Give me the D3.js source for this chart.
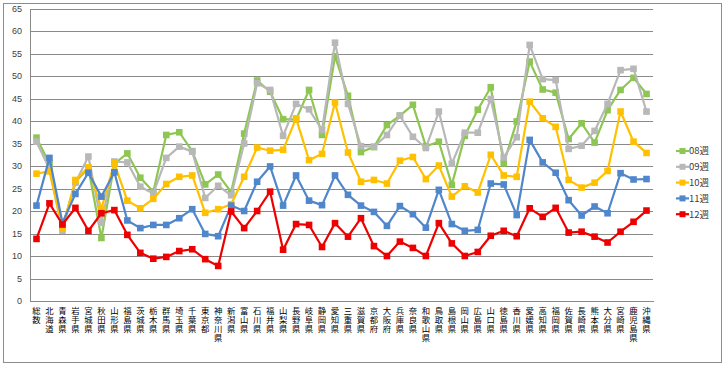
<!DOCTYPE html>
<html>
<head>
<meta charset="utf-8">
<script src="https://cdn.jsdelivr.net/npm/d3@7"></script>
<style>
  body { margin: 0; background: #fff; }
  svg { display: block; }
</style>
</head>
<body>
<div id="chart"></div>
<script>
// Categories (x axis)
const categories = ["総数", "北海道", "青森県", "岩手県", "宮城県", "秋田県", "山形県", "福島県",
    "茨城県", "栃木県", "群馬県", "埼玉県", "千葉県", "東京都", "神奈川県", "新潟県",
    "富山県", "石川県", "福井県", "山梨県", "長野県", "岐阜県", "静岡県", "愛知県",
    "三重県", "滋賀県", "京都府", "大阪府", "兵庫県", "奈良県", "和歌山県", "鳥取県",
    "島根県", "岡山県", "広島県", "山口県", "徳島県", "香川県", "愛媛県", "高知県",
    "福岡県", "佐賀県", "長崎県", "熊本県", "大分県", "宮崎県", "鹿児島県", "沖縄県"];

// Series values
const week08 = [36.3, 30.5, 16.5, 26.5, 29.5, 14.0, 30.5, 32.8, 27.4, 24.3, 36.9, 37.5,
    33.3, 25.9, 28.1, 24.2, 37.2, 49.0, 46.5, 40.4, 40.3, 46.9, 36.9, 54.4,
    45.6, 33.1, 34.2, 39.1, 41.2, 43.6, 34.4, 35.4, 25.8, 36.7, 42.5, 47.5,
    30.6, 39.9, 53.2, 47.0, 46.3, 36.0, 39.5, 35.2, 42.4, 46.9, 49.6, 46.0];
const week09 = [35.4, 29.3, 15.6, 26.3, 32.1, 17.4, 31.0, 30.8, 25.4, 23.9, 31.8, 34.3,
    33.2, 22.9, 25.6, 23.5, 35.0, 48.4, 46.9, 36.7, 43.8, 42.6, 38.0, 57.4,
    43.8, 34.4, 34.3, 36.9, 41.2, 36.5, 34.0, 42.1, 30.5, 37.4, 37.4, 44.9,
    31.9, 36.4, 56.9, 49.3, 49.1, 33.8, 34.5, 37.8, 43.8, 51.3, 51.6, 42.1];
const week10 = [28.3, 28.8, 16.1, 26.9, 29.7, 20.5, 30.6, 22.3, 20.6, 22.7, 26.0, 27.6,
    27.9, 19.6, 20.4, 21.5, 27.6, 34.1, 33.4, 33.6, 40.6, 31.3, 32.7, 44.1,
    33.0, 26.5, 26.9, 26.1, 31.2, 32.0, 27.1, 30.1, 23.2, 25.5, 24.1, 32.5,
    27.9, 27.6, 44.3, 40.6, 38.7, 26.9, 25.2, 26.3, 28.9, 42.1, 35.4, 32.9];
const week11 = [21.2, 31.8, 17.4, 23.8, 28.5, 23.2, 28.6, 17.9, 16.2, 16.9, 16.9, 18.4,
    20.4, 14.9, 14.4, 21.2, 20.0, 26.5, 29.9, 21.2, 27.9, 22.3, 21.3, 27.9,
    23.6, 21.2, 19.8, 16.7, 21.1, 19.3, 16.3, 24.7, 17.1, 15.6, 15.8, 26.1,
    25.9, 19.1, 35.8, 30.8, 28.5, 22.4, 19.0, 21.0, 19.5, 28.4, 27.0, 27.1];
const week12 = [13.8, 21.7, 17.0, 20.7, 15.6, 19.5, 20.2, 14.7, 10.7, 9.4, 9.8, 11.1,
    11.5, 9.3, 7.8, 19.9, 16.2, 20.0, 24.3, 11.4, 17.1, 16.9, 12.0, 17.3,
    14.3, 18.4, 12.2, 10.0, 13.2, 11.8, 10.0, 17.3, 12.8, 10.0, 10.9, 14.5,
    15.6, 14.4, 20.6, 18.7, 20.7, 15.2, 15.4, 14.3, 13.0, 15.4, 17.6, 20.1];

const seriesNames = ["08週", "09週", "10週", "11週", "12週"];
const seriesValues = [week08, week09, week10, week11, week12];
const seriesColors = ["#8dc652", "#b8b8b8", "#ffc000", "#4f86cc", "#ee0000"];
const yTicks = d3.range(0, 66, 5);

function createChart(width, height) {
    // Plot area bounds.
    const plotLeft = 30;
    const plotRight = 653;
    const plotTop = 8.5;
    const plotBottom = 301;

    const x = d3.scaleBand()
        .domain(categories)
        .range([plotLeft, plotRight]);

    const y = d3.scaleLinear()
        .domain([0, 65])
        .range([plotBottom, plotTop]);

    const svg = d3.create("svg")
        .attr("width", width)
        .attr("height", height)
        .attr("viewBox", [0, 0, width, height]);

    // Outer chart border.
    svg.append("rect")
        .attr("x", 3.5)
        .attr("y", 3.5)
        .attr("width", 718)
        .attr("height", 359)
        .attr("fill", "#fff")
        .attr("stroke", "#8c8c8c");

    // Y axis with grid lines.
    svg.append("g")
        .attr("transform", `translate(${plotLeft},0)`)
        .call(d3.axisLeft(y).tickValues(yTicks).tickSize(-(plotRight - plotLeft)).tickPadding(8))
        .call(g => g.select(".domain").remove())
        .call(g => g.selectAll(".tick line")
            .attr("stroke", "#8a8a8a")
            .attr("shape-rendering", "crispEdges"))
        .call(g => g.selectAll(".tick text")
            .attr("fill", "#404040")
            .style("font", "9px 'Liberation Sans', Arial, sans-serif"));

    // Left axis line.
    svg.append("line")
        .attr("x1", plotLeft).attr("x2", plotLeft)
        .attr("y1", plotTop).attr("y2", plotBottom)
        .attr("stroke", "#8a8a8a")
        .attr("shape-rendering", "crispEdges");

    // X axis: labels written top to bottom.
    svg.append("g")
        .attr("transform", `translate(0,${plotBottom})`)
        .call(d3.axisBottom(x).tickSize(0).tickPadding(0))
        .call(g => g.select(".domain")
            .attr("stroke", "#8a8a8a")
            .attr("shape-rendering", "crispEdges"))
        .call(g => g.selectAll(".tick text")
            .attr("x", 0)
            .attr("y", 6)
            .attr("dy", null)
            .attr("text-anchor", "start")
            .attr("fill", "#000")
            .style("writing-mode", "vertical-rl")
            .style("text-orientation", "upright")
            .style("letter-spacing", "0.4px")
            .style("font", "8.4px 'Noto Sans CJK JP', sans-serif"));

    // Lines and markers.
    const line = d3.line()
        .x((d, i) => x(categories[i]) + x.bandwidth() / 2)
        .y(d => y(d));

    seriesValues.forEach((values, s) => {
        svg.append("path")
            .datum(values)
            .attr("fill", "none")
            .attr("stroke", seriesColors[s])
            .attr("stroke-width", 2.2)
            .attr("stroke-linejoin", "round")
            .attr("d", line);

        svg.append("g")
            .selectAll("rect")
            .data(values)
            .join("rect")
            .attr("x", (d, i) => x(categories[i]) + x.bandwidth() / 2 - 3.3)
            .attr("y", d => y(d) - 3.3)
            .attr("width", 6.6)
            .attr("height", 6.6)
            .attr("fill", seriesColors[s]);
    });

    // Legend.
    const legend = svg.selectAll(".legend")
        .data(seriesNames)
        .join("g")
        .attr("class", "legend")
        .attr("transform", (d, i) => `translate(676,${151 + i * 15.8})`);

    legend.append("line")
        .attr("x1", 0).attr("x2", 13)
        .attr("stroke", (d, i) => seriesColors[i])
        .attr("stroke-width", 2.2);

    legend.append("rect")
        .attr("x", 3.5).attr("y", -3)
        .attr("width", 6).attr("height", 6)
        .attr("fill", (d, i) => seriesColors[i]);

    legend.append("text")
        .attr("x", 13)
        .attr("y", 0)
        .attr("dy", "0.36em")
        .attr("fill", "#404040")
        .style("font", "9.5px 'Noto Sans CJK JP', sans-serif")
        .text(d => d);

    return svg.node();
}

document.getElementById("chart").appendChild(createChart(728, 371));
</script>
</body>
</html>
